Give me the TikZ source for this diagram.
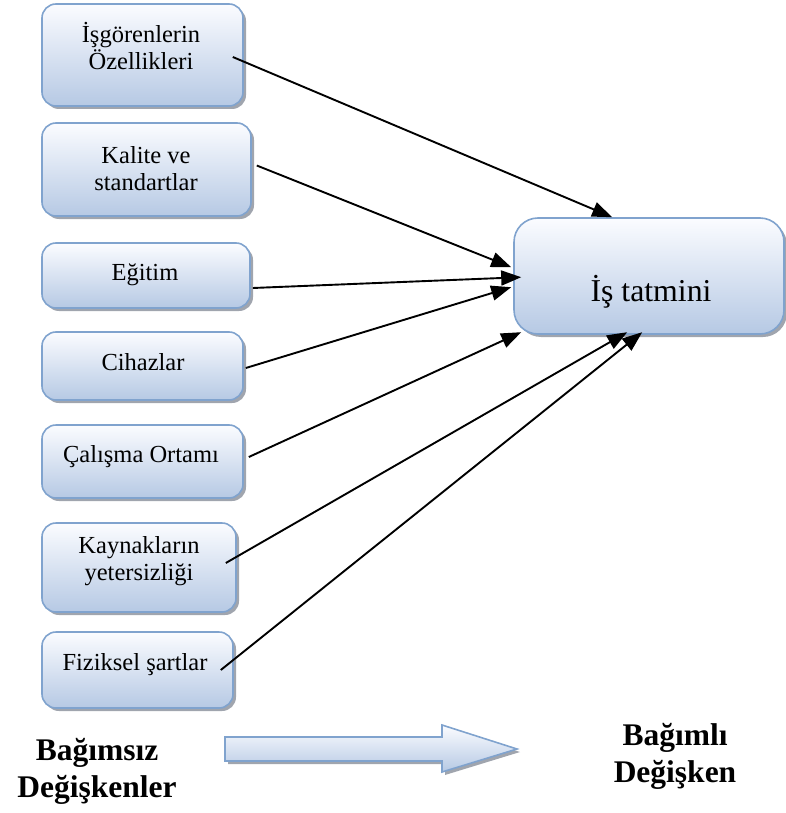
\documentclass[tikz,border=0pt]{standalone}
\usepackage{fontspec}
\setmainfont{Liberation Serif}
\usetikzlibrary{calc,shadows,arrows.meta}
\definecolor{boxborder}{RGB}{128,163,206}
\definecolor{boxtop}{RGB}{251,252,255}
\definecolor{boxbot}{RGB}{182,201,228}
\definecolor{shadowc}{RGB}{150,155,165}
\tikzset{
  smallbox/.style={draw=boxborder, line width=1.6pt, rounded corners=14pt,
    top color=boxtop, bottom color=boxbot, inner sep=0pt,
    drop shadow={shadow xshift=3pt, shadow yshift=-3pt, fill=shadowc, opacity=0.9}},
  bigbox/.style={smallbox, rounded corners=24pt},
  boxtext/.style={font=\fontsize{24.5}{27}\selectfont, align=center, anchor=base, inner sep=0pt},
  bigtext/.style={font=\fontsize{31.8}{36}\selectfont, anchor=base, inner sep=0pt},
  labeltext/.style={font=\bfseries\fontsize{31.5}{36.5}\selectfont, align=center, anchor=base, inner sep=0pt},
  conn/.style={line width=1.9pt, -{Triangle[length=20pt,width=15pt]}},
}
\begin{document}
\begin{tikzpicture}[x=1pt,y=-1pt]
\useasboundingbox (0,0) rectangle (785,813);

% left boxes
\node[smallbox, minimum width=201pt, minimum height=102pt] (b1) at (142.5,55) {};
\node[smallbox, minimum width=209pt, minimum height=93pt] (b2) at (146.5,169.5) {};
\node[smallbox, minimum width=208pt, minimum height=65pt] (b3) at (146,275.5) {};
\node[smallbox, minimum width=201pt, minimum height=68pt] (b4) at (142.5,366) {};
\node[smallbox, minimum width=201pt, minimum height=73pt] (b5) at (142.5,461.5) {};
\node[smallbox, minimum width=194pt, minimum height=89pt] (b6) at (139,567.5) {};
\node[smallbox, minimum width=191pt, minimum height=76pt] (b7) at (137.5,670) {};

% big box
\node[bigbox, minimum width=270pt, minimum height=116pt] (big) at (649,276) {};

% texts (base = baseline of last line)
\node[boxtext] (t1) at (141,70) {İşgörenlerin\\Özellikleri};
\node[boxtext] (t2) at (146,190) {Kalite ve\\standartlar};
\node[boxtext] (t3) at (145,280) {Eğitim};
\node[boxtext] (t4) at (143,370) {Cihazlar};
\node[boxtext] (t5) at (141,462) {Çalışma Ortamı};
\node[boxtext] (t6) at (139,580) {Kaynakların\\yetersizliği};
\node[boxtext] (t7) at (135,670) {Fiziksel şartlar};
\node[bigtext] (tb) at (651,301) {İş tatmini};

% connectors
\draw[conn] ($(b1.east)+(-11,2)$) -- ($(big.north west)+(99,0)$);
\draw[conn] ($(b2.east)+(5,-4)$) -- ($(big.north west)+(-2,50)$);
\draw[conn] ($(b3.east)+(2,12.5)$) -- ($(big.north west)+(8,60)$);
\draw[conn] ($(b4.east)+(2,2)$) -- ($(big.north west)+(-2,70)$);
\draw[conn] ($(b5.east)+(5,-4.5)$) -- ($(big.north west)+(8,115)$);
\draw[conn] ($(b6.east)+(-11,-4.5)$) -- ($(big.north west)+(114,115)$);
\draw[conn] ($(b7.east)+(-13,0)$) -- ($(big.north west)+(129,115)$);

% block arrow
\path[fill=shadowc, opacity=0.9] (228,740) -- (445,740) -- (445,728) -- (520,752) -- (445,775) -- (445,764) -- (228,764) -- cycle;
\path[draw=boxborder, line width=1.6pt, top color=boxtop, bottom color=boxbot]
  (225,737) -- (442,737) -- (442,725) -- (517,749) -- (442,772) -- (442,761) -- (225,761) -- cycle;

% labels
\node[labeltext] (l1) at (97,797) {Bağımsız\\Değişkenler};
\node[labeltext] (l2) at (675,782) {Bağımlı\\Değişken};
\end{tikzpicture}
\end{document}
